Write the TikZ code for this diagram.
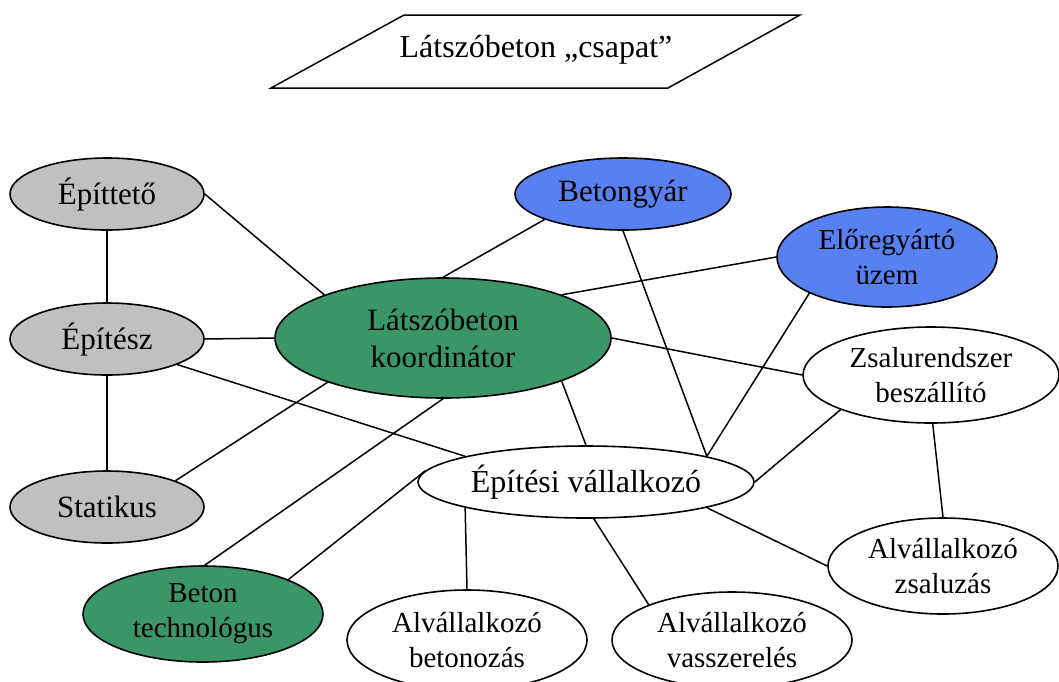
\documentclass[tikz,border=0pt]{standalone}
\usepackage{fontspec}
\setmainfont{Liberation Serif}
\usetikzlibrary{shapes.geometric}

\definecolor{roleGray}{RGB}{192,192,192}
\definecolor{roleGreen}{RGB}{58,150,104}
\definecolor{roleBlue}{RGB}{88,128,240}

\begin{document}
\begin{tikzpicture}[
    x=1pt,y=-1pt,
    role/.style={
      ellipse,
      draw=black,
      line width=1.6pt,
      inner sep=0pt,
      align=center
    },
    big/.style={font=\fontsize{31}{37}\selectfont},
    small/.style={font=\fontsize{29}{35}\selectfont},
    link/.style={line width=1.5pt}
]

\useasboundingbox (0,0) rectangle (1059,681);

\node[font=\fontsize{32}{36}\selectfont] (team) at (536,50) {Látszóbeton „csapat”};
\draw[line width=1.5pt] (271,88) -- (404,15) -- (800,15) -- (668,88) -- cycle;

\node[role, big, fill=roleGray, minimum width=194pt, minimum height=72pt] (ept) at (107,194) {Építtető};
\node[role, big, fill=roleGray, minimum width=194pt, minimum height=72pt] (epz) at (107,339) {Építész};
\node[role, big, fill=roleGray, minimum width=194pt, minimum height=72pt] (sta) at (107,507) {Statikus};
\node[role, small, fill=roleGreen, minimum width=240pt, minimum height=96pt] (bet) at (203,614) {Beton\\technológus};

\node[role, big, fill=roleGreen, minimum width=336pt, minimum height=120pt] (koord) at (443,338) {Látszóbeton\\koordinátor};
\node[role, big, fill=roleBlue, minimum width=216pt, minimum height=72pt] (gyar) at (623,194) {Betongyár};
\node[role, small, fill=roleBlue, minimum width=220pt, minimum height=100pt] (elo) at (887,257) {Előregyártó\\üzem};
\node[role, small, fill=white, minimum width=256pt, minimum height=96pt] (zsr) at (931,375) {Zsalurendszer\\beszállító};

\node[role, font=\fontsize{32}{36}\selectfont, fill=white, minimum width=336pt, minimum height=72pt] (epv) at (586,482) {Építési vállalkozó};
\node[role, small, fill=white, minimum width=230pt, minimum height=96pt] (azs) at (943,566) {Alvállalkozó\\zsaluzás};
\node[role, small, fill=white, minimum width=240pt, minimum height=96pt] (avs) at (732,640) {Alvállalkozó\\vasszerelés};
\node[role, small, fill=white, minimum width=240pt, minimum height=100pt] (abt) at (467,640) {Alvállalkozó\\betonozás};

\draw[link] (ept.south) -- (epz.north);
\draw[link] (epz.south) -- (sta.north);
\draw[link] (ept.east) -- (koord.160);
\draw[link] (epz.east) -- (koord.west);
\draw[link] (epz.-20) -- (epv.168);
\draw[link] (sta.21) -- (koord.201);
\draw[link] (bet.88) -- (koord.south);
\draw[link] (bet.22) -- (epv.176);

\draw[link] (gyar.198) -- (koord.north);
\draw[link] (gyar.south) -- (epv.12);
\draw[link] (elo.west) -- (koord.20);
\draw[link] (elo.205) -- (epv.12);
\draw[link] (koord.east) -- (zsr.west);
\draw[link] (koord.-20) -- (epv.north);

\draw[link] (epv.east) -- (zsr.201);
\draw[link] (zsr.-88) -- (azs.north);
\draw[link] (epv.-12) -- (azs.west);
\draw[link] (epv.192) -- (abt.north);
\draw[link] (epv.-78) -- (avs.157);

\end{tikzpicture}
\end{document}
